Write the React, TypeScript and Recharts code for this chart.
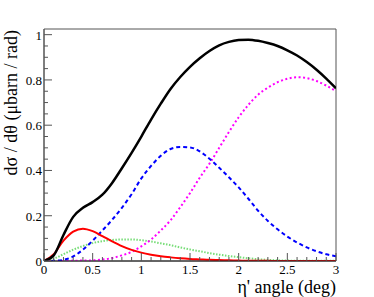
import { LineChart, Line, XAxis, YAxis, ReferenceArea } from "recharts";

const angles = [0, 0.1, 0.2, 0.3, 0.4, 0.5, 0.6, 0.7, 0.8, 0.9, 1.0, 1.1, 1.2, 1.3, 1.4, 1.5, 1.6, 1.7, 1.8, 1.9, 2.0, 2.1, 2.2, 2.3, 2.4, 2.5, 2.6, 2.7, 2.8, 2.9, 3.0];

const total = [0, 0.025, 0.115, 0.195, 0.235, 0.26, 0.293, 0.345, 0.41, 0.478, 0.55, 0.625, 0.695, 0.76, 0.813, 0.858, 0.896, 0.928, 0.953, 0.968, 0.976, 0.978, 0.973, 0.963, 0.95, 0.931, 0.908, 0.879, 0.845, 0.806, 0.763];
const red = [0, 0.03, 0.09, 0.13, 0.143, 0.132, 0.11, 0.087, 0.066, 0.049, 0.037, 0.028, 0.021, 0.016, 0.012, 0.009, 0.007, 0.005, 0.004, 0.003, 0.002, 0.001, 0.001, 0.001, 0, 0, 0, 0, 0, 0, 0];
const blue = [0, 0.001, 0.005, 0.02, 0.05, 0.09, 0.135, 0.182, 0.235, 0.295, 0.365, 0.42, 0.465, 0.495, 0.504, 0.502, 0.484, 0.452, 0.412, 0.37, 0.325, 0.275, 0.222, 0.177, 0.14, 0.108, 0.082, 0.06, 0.043, 0.03, 0.021];
const magenta = [0, 0, 0, 0.001, 0.002, 0.003, 0.007, 0.013, 0.025, 0.04, 0.065, 0.095, 0.135, 0.18, 0.238, 0.3, 0.368, 0.43, 0.5, 0.57, 0.635, 0.69, 0.735, 0.766, 0.79, 0.805, 0.812, 0.808, 0.795, 0.775, 0.75];
const green = [0, 0.01, 0.03, 0.05, 0.066, 0.079, 0.088, 0.093, 0.095, 0.095, 0.092, 0.086, 0.078, 0.07, 0.06, 0.051, 0.043, 0.035, 0.028, 0.022, 0.017, 0.012, 0.008, 0.005, 0.003, 0.002, 0.001, 0.001, 0.001, 0.001, 0.001];

const xTicks = [0, 0.1, 0.2, 0.3, 0.4, 0.5, 0.6, 0.7, 0.8, 0.9, 1, 1.1, 1.2, 1.3, 1.4, 1.5, 1.6, 1.7, 1.8, 1.9, 2, 2.1, 2.2, 2.3, 2.4, 2.5, 2.6, 2.7, 2.8, 2.9, 3];
const xLabels = ["0", "0.5", "1", "1.5", "2", "2.5", "3"];
const yTicks = [0, 0.05, 0.1, 0.15, 0.2, 0.25, 0.3, 0.35, 0.4, 0.45, 0.5, 0.55, 0.6, 0.65, 0.7, 0.75, 0.8, 0.85, 0.9, 0.95, 1];
const yLabels = ["0", "0.2", "0.4", "0.6", "0.8", "1"];

const data = angles.map((a, i) => ({
  angle: a,
  total: total[i],
  red: red[i],
  blue: blue[i],
  magenta: magenta[i],
  green: green[i],
}));

const serif = { fontFamily: "Liberation Serif, DejaVu Serif, serif" };

function fmt(v: number) {
  return String(Math.round(v * 100) / 100);
}

function XTick({ x, y, payload }: any) {
  const label = fmt(payload.value);
  const major = xLabels.includes(label);
  return (
    <g>
      <line x1={x} x2={x} y1={y} y2={y - (major ? 8 : 4)} stroke="#555" strokeWidth={1} />
      {major && (
        <text x={x} y={y + 13} textAnchor="middle" fontSize={13} style={serif} fill="#000">
          {label}
        </text>
      )}
    </g>
  );
}

function YTick({ x, y, payload }: any) {
  const label = fmt(payload.value);
  const major = yLabels.includes(label);
  return (
    <g>
      <line x1={x} x2={x + (major ? 8 : 4)} y1={y} y2={y} stroke="#555" strokeWidth={1} />
      {major && (
        <text x={x - 2} y={y + 5} textAnchor="end" fontSize={13} style={serif} fill="#000">
          {label}
        </text>
      )}
    </g>
  );
}

function XTitle() {
  return (
    <text x={336} y={293} textAnchor="end" fontSize={18} style={serif} fill="#000">
      η' angle (deg)
    </text>
  );
}

function YTitle() {
  return (
    <text x={17} y={30} transform="rotate(-90 17 30)" textAnchor="end" fontSize={18} style={serif} fill="#000">
      dσ / dθ (μbarn / rad)
    </text>
  );
}

export default function App() {
  return (
    <div style={{ position: "absolute", left: 0, top: 0, background: "#fff" }}>
      <LineChart width={374} height={297} data={data} margin={{ top: 29, right: 38, left: 0, bottom: 0 }}>
        <XAxis
          dataKey="angle"
          type="number"
          domain={[0, 3]}
          ticks={xTicks}
          interval={0}
          tick={XTick}
          tickLine={false}
          tickSize={0}
          tickMargin={0}
          height={36}
          axisLine={{ stroke: "#222" }}
          allowDataOverflow
          label={{ content: XTitle }}
        />
        <YAxis
          type="number"
          domain={[0, 1.025]}
          ticks={yTicks}
          interval={0}
          tick={YTick}
          tickLine={false}
          tickSize={0}
          tickMargin={0}
          width={44}
          axisLine={{ stroke: "#555" }}
          allowDataOverflow
          label={{ content: YTitle }}
        />
        <ReferenceArea x1={0} x2={3} y1={0} y2={1.025} fill="none" stroke="#555" strokeWidth={1} ifOverflow="visible" />
        <Line type="monotone" dataKey="green" stroke="#77dd77" strokeWidth={2} strokeDasharray="1.5 1.5" dot={false} isAnimationActive={false} />
        <Line type="monotone" dataKey="magenta" stroke="#ff00ff" strokeWidth={2} strokeDasharray="2 2.5" dot={false} isAnimationActive={false} />
        <Line type="monotone" dataKey="blue" stroke="#0000ff" strokeWidth={2} strokeDasharray="4 3" dot={false} isAnimationActive={false} />
        <Line type="monotone" dataKey="red" stroke="#ff0000" strokeWidth={2} dot={false} isAnimationActive={false} />
        <Line type="monotone" dataKey="total" stroke="#000" strokeWidth={2.5} dot={false} isAnimationActive={false} />
      </LineChart>
    </div>
  );
}
